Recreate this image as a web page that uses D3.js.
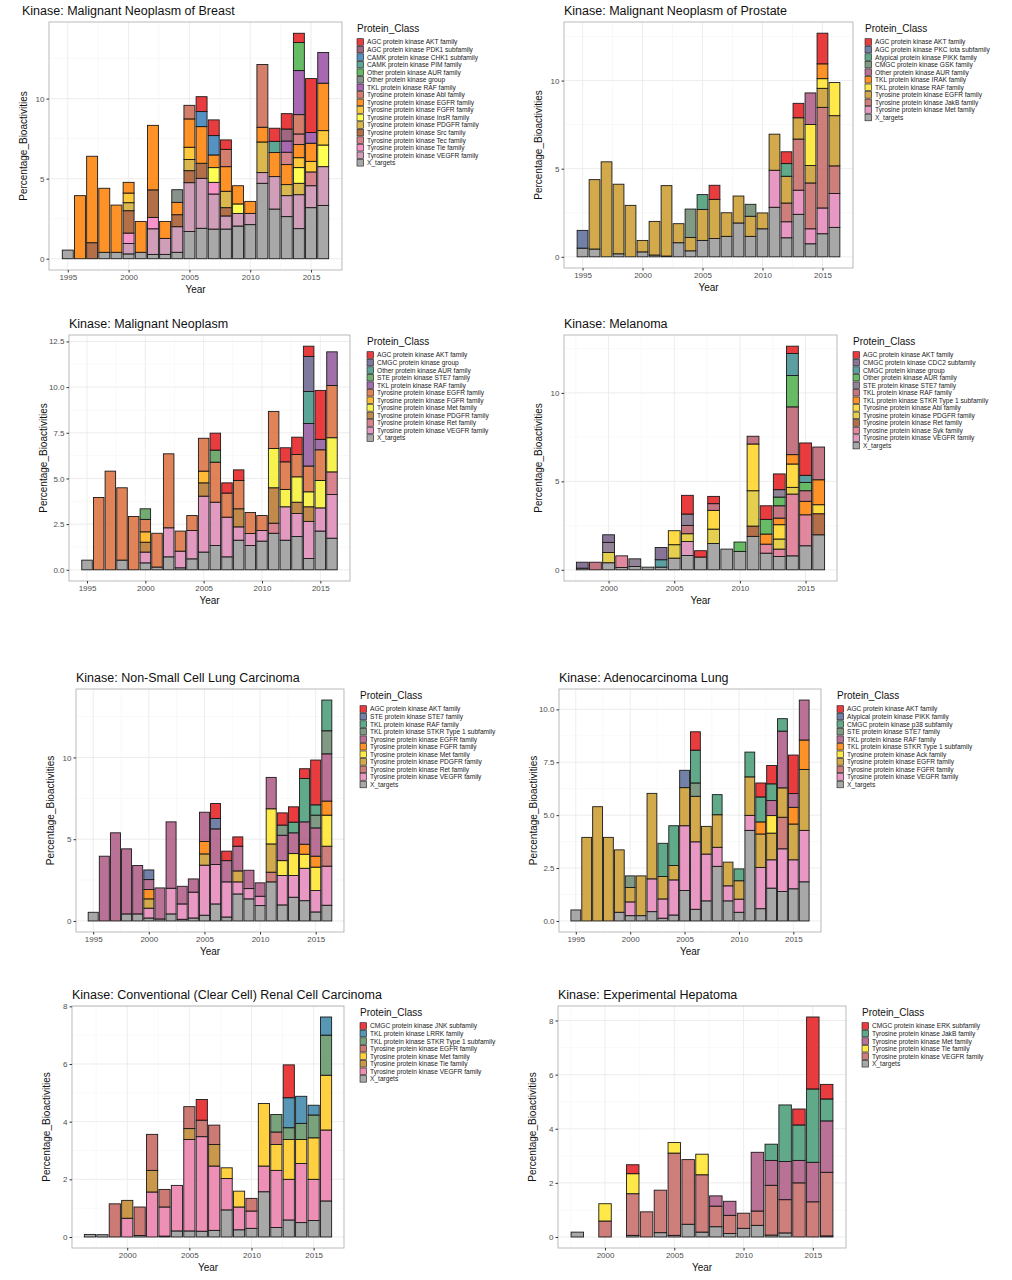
<!DOCTYPE html>
<html>
<head>
<script src="https://d3js.org/d3.v7.min.js"></script>
<style>
  body { margin:0; background:#fff; }
  text { font-family: "Liberation Sans", Arial, sans-serif; }
</style>
</head>
<body>
<script>
// ---- data: each stack row is [year, [classIndex, cumulativeTop], ...] bottom to top
var breastClasses = ["AGC protein kinase AKT family","AGC protein kinase PDK1 subfamily","CAMK protein kinase CHK1 subfamily","CAMK protein kinase PIM family","Other protein kinase AUR family","Other protein kinase group","TKL protein kinase RAF family","Tyrosine protein kinase Abl family","Tyrosine protein kinase EGFR family","Tyrosine protein kinase FGFR family","Tyrosine protein kinase InsR family","Tyrosine protein kinase PDGFR family","Tyrosine protein kinase Src family","Tyrosine protein kinase Tec family","Tyrosine protein kinase Tie family","Tyrosine protein kinase VEGFR family","X_targets"];
var breastStacks = [
  [1995,[16,0.54]],[1996,[8,3.94]],[1997,[12,1.0],[8,6.4]],[1998,[16,0.4],[8,4.4]],[1999,[16,0.4],[8,3.35]],
  [2000,[16,0.3],[15,0.95],[14,1.6],[12,3.0],[11,3.5],[9,4.1],[8,4.77]],[2001,[16,0.4],[8,2.33]],
  [2002,[16,0.27],[15,1.87],[14,2.58],[12,4.3],[8,8.33]],[2003,[16,0.27],[15,1.27],[8,2.33]],
  [2004,[16,0.4],[15,2.0],[12,2.75],[8,3.52],[5,4.31]],
  [2005,[16,1.7],[15,4.75],[12,5.5],[11,6.2],[9,6.96],[8,8.73],[7,9.58]],
  [2006,[16,1.9],[15,5.02],[12,5.96],[8,8.25],[2,9.19],[0,10.12]],
  [2007,[16,1.85],[15,4.04],[14,4.77],[10,5.69],[8,6.48],[2,7.69],[0,8.67]],
  [2008,[16,1.85],[15,2.67],[12,3.19],[11,4.21],[8,5.75],[7,6.83],[0,7.42]],
  [2009,[16,2.04],[15,2.83],[10,3.42],[8,4.56]],[2010,[16,2.13],[15,2.83],[8,3.58]],
  [2011,[16,4.71],[15,5.38],[11,7.29],[8,8.21],[7,12.13]],
  [2012,[16,3.1],[15,5.13],[8,6.63],[3,7.33],[0,8.15]],
  [2013,[16,2.63],[15,3.94],[11,4.63],[8,5.88],[13,6.65],[6,7.35],[1,8.1],[0,9.06]],
  [2014,[16,1.88],[15,4.0],[11,4.71],[10,5.69],[9,6.31],[8,7.13],[13,7.79],[7,9.0],[6,11.75],[4,13.5],[0,14.08]],
  [2015,[16,3.19],[15,4.56],[13,5.42],[9,6.08],[8,7.21],[6,7.88],[0,11.25]],
  [2016,[16,3.33],[15,5.75],[10,7.1],[9,8.0],[8,10.96],[6,12.88]]
];

var prostateClasses = ["AGC protein kinase AKT family","AGC protein kinase PKC iota subfamily","Atypical protein kinase PIKK family","CMGC protein kinase GSK family","Other protein kinase AUR family","TKL protein kinase IRAK family","TKL protein kinase RAF family","Tyrosine protein kinase EGFR family","Tyrosine protein kinase JakB family","Tyrosine protein kinase Met family","X_targets"];
var prostateStacks = [
  [1995,[10,0.49],[1,1.5]],[1996,[10,0.44],[7,4.38]],[1997,[7,5.39]],[1998,[10,0.17],[7,4.12]],[1999,[7,2.92]],
  [2000,[10,0.28],[7,0.93]],[2001,[10,0.1],[7,2.01]],[2002,[10,0.04],[7,4.04]],[2003,[10,0.8],[7,1.88]],
  [2004,[10,0.34],[7,1.1],[3,2.71]],[2005,[10,0.93],[7,2.69],[2,3.53]],[2006,[10,1.04],[7,3.26],[0,4.06]],
  [2007,[10,1.16],[7,2.5]],[2008,[10,1.92],[7,3.45]],[2009,[10,1.16],[7,2.3],[3,2.98]],[2010,[10,1.59],[7,2.49]],
  [2011,[10,2.81],[9,4.91],[7,6.96]],
  [2012,[10,1.08],[9,1.99],[8,3.05],[7,4.57],[2,5.29],[0,5.96]],
  [2013,[10,2.41],[9,3.78],[8,6.68],[7,7.89],[0,8.71]],
  [2014,[10,0.74],[9,1.59],[8,4.19],[7,5.18],[6,7.51],[4,9.3]],
  [2015,[10,1.31],[9,2.77],[8,8.48],[7,9.56],[6,10.11],[5,10.95],[0,12.69]],
  [2016,[10,1.67],[9,3.59],[8,5.16],[7,8.01],[6,9.89]]
];

var neoplasmClasses = ["AGC protein kinase AKT family","CMGC protein kinase group","Other protein kinase AUR family","STE protein kinase STE7 family","TKL protein kinase RAF family","Tyrosine protein kinase EGFR family","Tyrosine protein kinase FGFR family","Tyrosine protein kinase Met family","Tyrosine protein kinase PDGFR family","Tyrosine protein kinase Ret family","Tyrosine protein kinase VEGFR family","X_targets"];
var neoplasmStacks = [
  [1995,[11,0.53]],[1996,[5,3.96]],[1997,[5,5.4]],[1998,[11,0.53],[5,4.49]],[1999,[5,2.92]],
  [2000,[11,0.38],[10,0.97],[8,1.51],[6,2.08],[5,2.76],[3,3.34]],[2001,[11,0.15],[5,2.0]],
  [2002,[11,0.71],[10,2.3],[5,6.35]],[2003,[11,0.11],[10,1.02],[5,2.12]],[2004,[11,0.6],[10,2.15],[5,2.97]],
  [2005,[11,0.97],[10,4.03],[8,4.76],[6,5.4],[5,7.2]],
  [2006,[11,1.33],[10,3.7],[5,5.89],[3,6.55],[0,7.48]],
  [2007,[11,0.71],[10,2.88],[5,4.2],[0,4.76]],
  [2008,[11,1.62],[10,2.35],[8,3.34],[5,4.89],[0,5.47]],
  [2009,[11,1.33],[10,1.99],[5,3.14]],[2010,[11,1.57],[10,2.15],[5,2.97]],
  [2011,[11,2.0],[9,2.55],[8,4.49],[7,6.64],[5,8.67]],
  [2012,[11,1.62],[10,3.45],[7,4.4],[5,5.91],[0,6.68]],
  [2013,[11,1.82],[10,3.08],[8,3.7],[7,5.09],[5,6.31],[0,7.26]],
  [2014,[11,0.62],[10,2.65],[8,3.45],[7,4.27],[5,5.68],[4,8.01],[2,9.76],[1,11.68],[0,12.24]],
  [2015,[11,2.12],[10,3.39],[7,4.89],[5,6.57],[4,7.14],[0,9.82]],
  [2016,[11,1.73],[10,4.12],[9,5.36],[7,7.23],[5,10.09],[4,11.93]]
];

var melanomaClasses = ["AGC protein kinase AKT family","CMGC protein kinase CDC2 subfamily","CMGC protein kinase group","Other protein kinase AUR family","STE protein kinase STE7 family","TKL protein kinase RAF family","TKL protein kinase STKR Type 1 subfamily","Tyrosine protein kinase Abl family","Tyrosine protein kinase PDGFR family","Tyrosine protein kinase Ret family","Tyrosine protein kinase Syk family","Tyrosine protein kinase VEGFR family","X_targets"];
var melanomaStacks = [
  [1998,[12,0.09],[1,0.43]],[1999,[5,0.43]],[2000,[12,0.4],[8,0.98],[4,1.55],[1,1.98]],[2001,[12,0.13],[10,0.79]],
  [2002,[12,0.19],[4,0.62]],[2003,[12,0.15]],[2004,[12,0.15],[2,0.57],[1,1.26]],[2005,[12,0.66],[8,1.42],[7,2.21]],
  [2006,[12,0.81],[11,1.6],[8,2.04],[5,2.51],[4,3.15],[0,4.21]],[2007,[12,0.72],[0,1.08]],
  [2008,[12,1.49],[8,2.3],[7,3.36],[5,3.74],[0,4.15]],[2009,[12,1.17]],[2010,[12,1.04],[3,1.57]],
  [2011,[12,1.89],[9,2.47],[8,4.47],[7,7.11],[5,7.55]],
  [2012,[12,0.94],[10,1.45],[6,2.02],[3,2.85],[0,3.62]],
  [2013,[12,0.75],[10,1.17],[8,1.74],[7,2.55],[6,2.92],[5,3.62],[3,4.11],[4,4.53],[0,5.42]],
  [2014,[12,0.79],[10,4.28],[8,4.66],[7,5.98],[6,6.51],[5,9.21],[3,10.98],[2,12.23],[0,12.64]],
  [2015,[12,1.36],[10,3.11],[6,3.87],[5,4.47],[3,4.94],[2,5.34],[0,7.17]],
  [2016,[12,1.98],[9,3.17],[7,3.68],[6,5.09],[5,6.94]]
];

var nsclcClasses = ["AGC protein kinase AKT family","STE protein kinase STE7 family","TKL protein kinase RAF family","TKL protein kinase STKR Type 1 subfamily","Tyrosine protein kinase EGFR family","Tyrosine protein kinase FGFR family","Tyrosine protein kinase Met family","Tyrosine protein kinase PDGFR family","Tyrosine protein kinase Ret family","Tyrosine protein kinase VEGFR family","X_targets"];
var nsclcStacks = [
  [1995,[10,0.53]],[1996,[4,3.96]],[1997,[4,5.39]],[1998,[10,0.43],[4,4.41]],[1999,[10,0.43],[4,3.39]],
  [2000,[10,0.18],[9,0.78],[7,1.35],[5,1.92],[4,2.53],[1,3.12]],[2001,[10,0.12],[4,2.02]],
  [2002,[10,0.43],[9,2.0],[4,6.06]],[2003,[10,0.1],[9,1.04],[4,2.12]],[2004,[10,0.18],[9,1.76],[4,2.57]],
  [2005,[10,0.35],[9,3.41],[7,4.1],[5,4.86],[4,6.65]],
  [2006,[10,1.04],[9,3.45],[4,5.63],[1,6.27],[0,7.18]],
  [2007,[10,0.24],[9,2.39],[4,3.69],[0,4.27]],
  [2008,[10,1.65],[9,2.39],[7,3.06],[4,4.57],[0,5.14]],
  [2009,[10,1.35],[9,1.98],[4,3.1]],[2010,[10,0.94],[9,1.51],[4,2.33]],
  [2011,[10,2.39],[8,2.98],[7,4.71],[6,6.86],[4,8.78]],
  [2012,[10,0.98],[9,2.78],[6,3.69],[4,5.24],[3,5.86],[0,6.61]],
  [2013,[10,1.45],[9,2.78],[6,4.12],[4,5.39],[2,6.04],[0,6.98]],
  [2014,[10,1.24],[9,3.22],[6,4.08],[5,4.69],[4,6.06],[2,8.71],[0,9.31]],
  [2015,[10,0.55],[9,1.86],[6,3.29],[5,3.96],[4,5.69],[3,6.47],[2,7.1],[0,9.84]],
  [2016,[10,0.96],[9,3.35],[8,4.57],[6,6.47],[5,7.33],[4,10.22],[3,11.63],[2,13.51]]
];

var adenoClasses = ["AGC protein kinase AKT family","Atypical protein kinase PIKK family","CMGC protein kinase p38 subfamily","STE protein kinase STE7 family","TKL protein kinase RAF family","TKL protein kinase STKR Type 1 subfamily","Tyrosine protein kinase Ack family","Tyrosine protein kinase EGFR family","Tyrosine protein kinase FGFR family","Tyrosine protein kinase VEGFR family","X_targets"];
var adenoStacks = [
  [1995,[10,0.52]],[1996,[7,3.95]],[1997,[7,5.4]],[1998,[7,3.95]],[1999,[10,0.41],[7,3.36]],
  [2000,[10,0.25],[9,0.9],[7,1.58],[3,2.13]],[2001,[10,0.25],[7,2.13]],[2002,[10,0.44],[9,1.99],[7,6.03]],
  [2003,[10,0.13],[9,1.04],[7,2.1],[2,3.67]],[2004,[10,0.28],[9,1.94],[7,2.62],[2,4.5]],
  [2005,[10,1.44],[9,4.5],[7,6.3],[1,7.12]],
  [2006,[10,0.55],[9,3.74],[7,5.89],[3,6.52],[2,8.07],[0,8.94]],
  [2007,[10,0.95],[9,3.16],[7,4.47]],[2008,[10,2.58],[9,3.48],[7,5.02],[2,5.97]],
  [2009,[10,0.95],[9,1.66],[7,2.78]],[2010,[10,0.41],[9,1.03],[7,1.9],[2,2.46]],
  [2011,[10,4.28],[9,4.99],[7,6.81],[2,7.98]],
  [2012,[10,0.58],[9,2.53],[7,4.11],[5,4.68],[2,5.86],[0,6.52]],
  [2013,[10,1.55],[9,2.89],[7,4.15],[6,4.98],[4,5.69],[2,6.48],[0,7.35]],
  [2014,[10,1.39],[9,3.41],[8,4.9],[7,6.29],[4,8.97],[2,9.56]],
  [2015,[10,1.52],[9,2.89],[7,4.58],[5,5.37],[4,6.02],[0,7.84]],
  [2016,[10,1.85],[9,4.28],[7,7.16],[5,8.55],[4,10.44]]
];

var renalClasses = ["CMGC protein kinase JNK subfamily","TKL protein kinase LRRK family","TKL protein kinase STKR Type 1 subfamily","Tyrosine protein kinase EGFR family","Tyrosine protein kinase Met family","Tyrosine protein kinase Tie family","Tyrosine protein kinase VEGFR family","X_targets"];
var renalStacks = [
  [1997,[7,0.09]],[1998,[7,0.08]],[1999,[3,1.15]],[2000,[6,0.65],[5,1.27]],[2001,[7,0.05],[3,1.04]],
  [2002,[6,1.56],[5,2.31],[3,3.56]],[2003,[7,0.03],[6,1.04],[3,1.65]],[2004,[7,0.21],[6,1.79]],
  [2005,[7,0.21],[6,3.38],[5,3.76],[3,4.52]],[2006,[7,0.2],[6,3.48],[3,4.05],[0,4.77]],
  [2007,[7,0.23],[6,2.46],[5,3.21],[3,3.88]],[2008,[7,0.94],[6,2.03],[4,2.4]],
  [2009,[7,0.25],[6,1.04],[4,1.59]],[2010,[7,0.3],[6,0.9],[3,1.34]],
  [2011,[7,1.57],[6,2.46],[4,4.63]],[2012,[7,0.33],[6,2.31],[4,3.21],[3,3.64],[2,4.25]],
  [2013,[7,0.59],[6,2.0],[4,3.38],[2,3.79],[1,4.83],[0,5.97]],
  [2014,[7,0.5],[6,2.55],[4,3.38],[2,3.94],[1,4.88]],
  [2015,[7,0.57],[6,2.0],[4,3.44],[2,4.23],[1,4.57]],
  [2016,[7,1.25],[6,3.71],[4,5.61],[2,7.0],[1,7.63]]
];

var hepatomaClasses = ["CMGC protein kinase ERK subfamily","Tyrosine protein kinase JakB family","Tyrosine protein kinase Met family","Tyrosine protein kinase Tie family","Tyrosine protein kinase VEGFR family","X_targets"];
var hepatomaStacks = [
  [1998,[5,0.18]],[2000,[4,0.59],[3,1.23]],[2002,[5,0.06],[4,1.6],[3,2.34],[0,2.67]],[2003,[4,0.93]],
  [2004,[5,0.16],[4,1.73]],[2005,[5,0.06],[4,3.1],[3,3.49]],[2006,[5,0.47],[4,2.86]],
  [2007,[5,0.18],[4,2.3],[3,3.06]],[2008,[5,0.38],[4,1.14],[2,1.52]],[2009,[5,0.13],[4,0.8],[2,1.32]],
  [2010,[5,0.32],[4,0.88]],[2011,[5,0.43],[4,0.96],[2,3.13]],
  [2012,[5,0.07],[4,1.91],[2,2.83],[1,3.43]],[2013,[5,0.15],[4,1.38],[2,2.79],[1,4.88]],
  [2014,[4,2.0],[2,2.83],[1,4.14],[0,4.73]],[2015,[4,1.3],[2,2.76],[1,5.47],[0,8.13]],
  [2016,[5,0.04],[4,2.39],[2,4.29],[1,5.1],[0,5.64]]
];

var xTicks = [1995, 2000, 2005, 2010, 2015];
var set1 = ["#E41A1C","#377EB8","#4DAF4A","#984EA3","#FF7F00","#FFFF33","#A65628","#F781BF","#999999"];

var panels = [
  {title:"Kinase: Malignant Neoplasm of Breast", cls:breastClasses, data:breastStacks, box:[49,22,342,270], yt:[0,5,10], fmt:"d", tx:22, ty:11, lx:357},
  {title:"Kinase: Malignant Neoplasm of Prostate", cls:prostateClasses, data:prostateStacks, box:[564,22,853,268], yt:[0,5,10], fmt:"d", tx:564, ty:11, lx:865},
  {title:"Kinase: Malignant Neoplasm", cls:neoplasmClasses, data:neoplasmStacks, box:[69,335,350,581], yt:[0,2.5,5,7.5,10,12.5], fmt:".1f", tx:69, ty:324, lx:367},
  {title:"Kinase: Melanoma", cls:melanomaClasses, data:melanomaStacks, box:[564,335,837,581], yt:[0,5,10], fmt:"d", tx:564, ty:324, lx:853},
  {title:"Kinase: Non-Small Cell Lung Carcinoma", cls:nsclcClasses, data:nsclcStacks, box:[76,689,344,932], yt:[0,5,10], fmt:"d", tx:76, ty:678, lx:360},
  {title:"Kinase: Adenocarcinoma Lung", cls:adenoClasses, data:adenoStacks, box:[559,689,821,932], yt:[0,2.5,5,7.5,10], fmt:".1f", tx:559, ty:678, lx:837},
  {title:"Kinase: Conventional (Clear Cell) Renal Cell Carcinoma", cls:renalClasses, data:renalStacks, box:[72,1006,344,1248], yt:[0,2,4,6,8], fmt:"d", tx:72, ty:995, lx:360},
  {title:"Kinase: Experimental Hepatoma", cls:hepatomaClasses, data:hepatomaStacks, box:[558,1006,846,1248], yt:[0,2,4,6,8], fmt:"d", tx:558, ty:995, lx:862}
];

var svg = d3.select("body").append("svg").attr("width", 1012).attr("height", 1280);

panels.forEach(function(p) {
  var b = p.box;
  var years = p.data.map(function(r){ return r[0]; });
  var x0 = d3.min(years) - 0.45, x1 = d3.max(years) + 0.45;
  var xr = x1 - x0;
  var x = d3.scaleLinear().domain([x0 - 0.05*xr, x1 + 0.05*xr]).range([b[0], b[2]]);
  var ymax = d3.max(p.data, function(r){ return r[r.length-1][1]; });
  var y = d3.scaleLinear().domain([-0.05*ymax, 1.05*ymax]).range([b[3], b[1]]);
  var pal = d3.piecewise(d3.interpolateRgb, set1);
  var n = p.cls.length;
  var color = function(i){ return pal(n > 1 ? i/(n-1) : 0); };
  var g = svg.append("g");

  // grid
  var ystep = p.yt[1] - p.yt[0];
  var yminor = p.yt.map(function(v){ return v + ystep/2; }).filter(function(v){ return y(v) > b[1]; });
  var xin = xTicks.filter(function(v){ return x(v) >= b[0] && x(v) <= b[2]; });
  var xminor = [1992.5,1997.5,2002.5,2007.5,2012.5,2017.5].filter(function(v){ return x(v) > b[0] && x(v) < b[2]; });
  g.selectAll(".ym").data(yminor).enter().append("line")
    .attr("x1", b[0]).attr("x2", b[2]).attr("y1", y).attr("y2", y).attr("stroke", "#f2f2f2").attr("stroke-width", 0.5);
  g.selectAll(".xm").data(xminor).enter().append("line")
    .attr("y1", b[1]).attr("y2", b[3]).attr("x1", x).attr("x2", x).attr("stroke", "#f2f2f2").attr("stroke-width", 0.5);
  g.selectAll(".yg").data(p.yt).enter().append("line")
    .attr("x1", b[0]).attr("x2", b[2]).attr("y1", y).attr("y2", y).attr("stroke", "#ebebeb").attr("stroke-width", 0.9);
  g.selectAll(".xg").data(xin).enter().append("line")
    .attr("y1", b[1]).attr("y2", b[3]).attr("x1", x).attr("x2", x).attr("stroke", "#ebebeb").attr("stroke-width", 0.9);

  // bars
  p.data.forEach(function(r) {
    var yr = r[0], bottom = 0;
    r.slice(1).forEach(function(s) {
      g.append("rect")
        .attr("x", x(yr - 0.45)).attr("width", x(yr + 0.45) - x(yr - 0.45))
        .attr("y", y(s[1])).attr("height", Math.max(0, y(bottom) - y(s[1])))
        .attr("fill", color(s[0])).attr("fill-opacity", 0.85)
        .attr("stroke", "#1a1a1a").attr("stroke-width", 0.9);
      bottom = s[1];
    });
  });

  g.append("rect").attr("x", b[0]).attr("y", b[1]).attr("width", b[2]-b[0]).attr("height", b[3]-b[1])
    .attr("fill", "none").attr("stroke", "#b3b3b3").attr("stroke-width", 0.9);

  // axes
  var ya = g.append("g").attr("transform", "translate(" + b[0] + ",0)")
    .call(d3.axisLeft(y).tickValues(p.yt).tickSize(2.5).tickPadding(2).tickFormat(d3.format(p.fmt)));
  var xa = g.append("g").attr("transform", "translate(0," + b[3] + ")")
    .call(d3.axisBottom(x).tickValues(xin).tickSize(2.5).tickPadding(2).tickFormat(d3.format("d")));
  [ya, xa].forEach(function(a) {
    a.select(".domain").remove();
    a.selectAll("line").attr("stroke", "#333");
    a.selectAll("text").attr("fill", "#4d4d4d").style("font-size", "8px").style("font-family", "Liberation Sans, Arial, sans-serif");
  });

  g.append("text").attr("x", p.tx).attr("y", p.ty + 4).text(p.title).style("font-size", "12.5px").attr("fill", "#111");
  g.append("text").attr("x", (b[0]+b[2])/2).attr("y", b[3] + 23).attr("text-anchor", "middle")
    .text("Year").style("font-size", "10px").attr("fill", "#111");
  g.append("text").attr("transform", "translate(" + (b[0] - 22) + "," + ((b[1]+b[3])/2) + ") rotate(-90)")
    .attr("text-anchor", "middle").text("Percentage_Bioactivities").style("font-size", "10px").attr("fill", "#111");

  // legend
  var lg = g.append("g").attr("transform", "translate(" + p.lx + "," + b[1] + ")");
  lg.append("text").attr("x", 0).attr("y", 10).text("Protein_Class").style("font-size", "10px").attr("fill", "#111");
  var items = lg.selectAll(".li").data(p.cls).enter().append("g")
    .attr("transform", function(d, i){ return "translate(0," + (20 + i*7.55) + ")"; });
  items.append("rect").attr("x", 0).attr("y", -3.3).attr("width", 6.6).attr("height", 6.6)
    .attr("fill", function(d, i){ return color(i); }).attr("fill-opacity", 0.85)
    .attr("stroke", "#1a1a1a").attr("stroke-width", 0.6);
  items.append("text").attr("x", 10).attr("y", 2.4).text(function(d){ return d; })
    .style("font-size", "6.6px").attr("fill", "#222");
});
</script>
</body>
</html>
